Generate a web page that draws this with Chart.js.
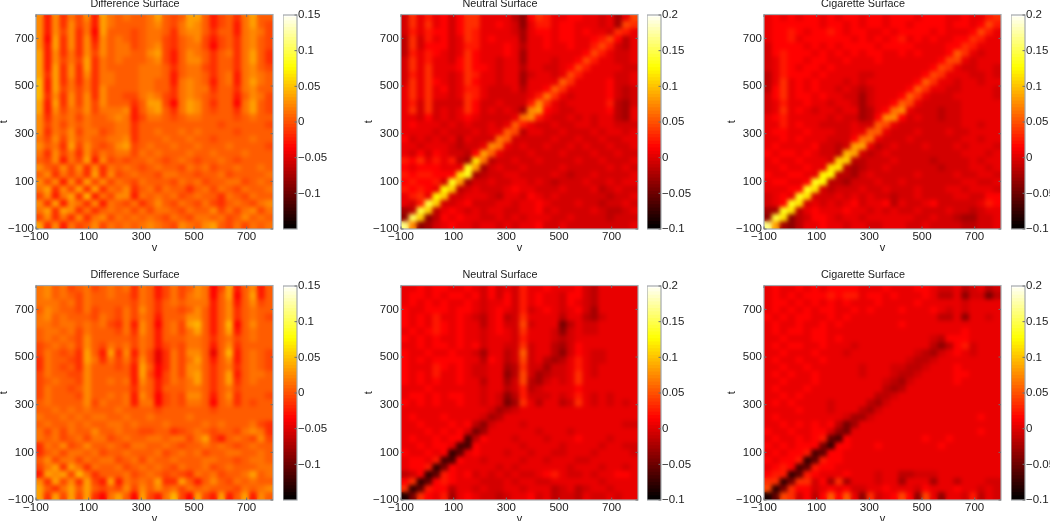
<!DOCTYPE html>
<html>
<head>
<meta charset="utf-8">
<title>Surfaces</title>
<script src="https://cdn.jsdelivr.net/npm/chart.js@4/dist/chart.umd.js"></script>
<style>
  html, body { margin: 0; padding: 0; background: #fff; overflow: hidden; }
  #page { position: relative; width: 1050px; height: 521px; overflow: hidden; }
  canvas { position: absolute; }
</style>
</head>
<body>
<div id="page"></div>
<script>
// Cell centres on both axes of every surface
const vCenters = [-85,-55,-25,5,35,65,95,125,155,185,215,245,275,305,335,365,395,425,455,485,515,545,575,605,635,665,695,725,755,785];
const tCenters = [785,755,725,695,665,635,605,575,545,515,485,455,425,395,365,335,305,275,245,215,185,155,125,95,65,35,5,-25,-55,-85];

const axisTicks = [-100,100,300,500,700];
const diffBarTicks = [-0.1,-0.05,0,0.05,0.1,0.15];
const surfaceBarTicks = [-0.1,-0.05,0,0.05,0.1,0.15,0.2];

// Surface values, in hundredths. Rows run from t=785 down to t=-85
const diffTop = [
[2,-3,2,-2,1,-1,2,-3,3,1,0,1,0,0,1,3,0,-1,0,3,3,0,-3,-1,0,-2,1,3,0,0],
[2,-3,2,-2,2,-1,1,-3,3,1,0,0,0,0,1,2,0,-1,1,3,2,0,-3,-1,0,-3,1,3,0,-1],
[2,-3,2,-1,2,-2,1,-4,3,0,0,0,-1,0,1,1,0,-2,1,2,2,0,-2,0,0,-3,1,2,1,-1],
[2,-4,3,-2,2,-2,2,-3,2,0,1,0,-1,0,1,1,-1,-2,0,1,2,-1,-3,-1,0,-2,1,2,0,-1],
[2,-3,3,-2,2,-2,2,-2,2,0,1,1,-1,0,1,2,-1,-2,0,1,1,-1,-4,-1,0,-2,1,2,0,-1],
[3,-3,2,-2,1,-2,2,-1,2,0,1,1,0,0,2,3,-1,-3,0,2,1,0,-2,0,1,-2,1,3,0,-2],
[3,-3,2,-1,1,-1,3,-2,1,0,1,0,0,0,1,2,-1,-3,0,2,2,0,-2,0,0,-2,1,3,0,-2],
[3,-3,3,-2,2,-2,3,-2,1,0,0,0,0,1,1,1,0,-2,0,1,1,-1,-2,0,0,-2,1,2,0,-1],
[3,-2,3,-2,2,-2,2,-2,1,1,0,0,0,1,1,1,0,-3,0,1,1,0,-2,0,1,-3,1,2,1,0],
[4,-3,3,-2,1,-2,1,-2,1,1,0,0,0,1,1,0,0,-3,1,2,1,0,-3,0,1,-3,1,3,1,0],
[4,-3,3,-1,1,-1,1,-2,2,0,0,0,0,1,1,0,0,-2,1,2,1,1,-2,0,0,-2,1,2,0,0],
[4,-2,2,-2,2,-1,2,-2,2,0,0,-1,-1,1,2,1,-1,-2,1,2,1,0,-1,0,0,-3,0,2,1,-1],
[3,-3,3,-2,2,-1,2,-1,2,0,0,0,-2,0,3,3,-1,-4,1,3,2,0,-2,0,0,-4,1,3,0,-1],
[3,-3,2,-1,1,0,2,-1,1,1,1,2,-3,0,2,3,0,-2,1,3,2,0,-1,0,0,-2,1,3,0,-1],
[2,-2,1,0,1,-1,1,0,0,1,2,1,-3,-1,1,1,0,-1,0,1,1,0,0,0,0,-1,0,1,0,0],
[2,-1,1,-1,1,0,1,0,0,0,1,1,-2,0,0,0,0,0,0,0,0,0,0,-1,0,0,0,0,0,-1],
[2,-2,1,0,2,-1,1,1,-1,0,1,1,-2,0,0,1,0,0,1,0,1,0,0,0,0,-1,0,0,0,0],
[1,-1,2,-1,2,0,1,0,0,1,1,2,-2,0,0,0,1,0,0,1,0,0,-1,0,0,0,0,1,0,0],
[2,0,1,-2,3,-1,2,0,-1,0,2,3,-1,0,1,0,0,1,0,0,1,0,0,0,1,0,0,0,0,-1],
[1,-2,2,-1,1,-2,2,-1,1,0,1,1,-1,1,0,1,0,0,0,1,0,0,1,0,0,0,1,0,0,0],
[0,-1,2,-3,1,-1,3,-3,2,-1,0,-1,0,0,1,0,-1,0,1,0,-1,0,0,1,0,-1,0,0,0,0],
[2,0,-1,2,-1,2,-2,2,-2,1,0,1,0,-1,0,1,0,0,-1,1,0,1,-1,0,0,1,0,0,1,0],
[0,2,-2,1,-1,1,-2,3,-2,2,-1,0,1,0,0,-1,1,1,0,0,-1,0,0,1,-1,0,0,0,0,1],
[2,-1,2,-3,2,-2,3,-1,2,-1,1,0,-1,1,0,0,0,-1,1,0,1,-1,0,0,1,1,-1,0,1,0],
[1,3,-2,2,-1,3,-2,3,-2,1,0,2,-2,0,1,-1,1,0,0,-2,0,1,-1,1,0,-1,1,0,0,1],
[-1,2,-3,1,3,-2,4,-3,1,-1,2,2,-3,1,0,1,0,1,-1,0,1,0,0,-2,1,0,-1,1,0,0],
[2,-2,3,-3,2,1,-2,2,-3,1,0,-1,1,-2,0,2,0,-1,1,0,-1,1,-1,-2,0,1,0,-1,1,2],
[1,3,-2,3,2,-2,1,-2,0,1,0,1,-1,1,-1,1,1,0,-1,1,0,0,2,-1,1,-1,1,2,-1,1],
[-1,2,-2,1,-2,2,-2,1,2,-1,1,0,1,0,1,0,-1,1,0,-1,1,1,0,1,-1,0,2,0,1,0],
[3,-2,2,-3,1,-1,0,2,-1,1,0,1,0,1,2,1,0,-1,2,1,0,2,3,0,-1,1,-1,1,0,1]
];
const neutralTop = [
[-1,3,0,2,0,1,-1,1,3,3,0,0,0,0,-2,-4,1,3,2,0,0,1,1,0,0,-1,0,-3,0,4],
[-1,3,0,3,0,1,-1,1,3,3,0,0,1,0,-1,-4,0,2,2,0,1,1,0,0,0,-1,0,-3,4,3],
[-1,2,0,2,1,1,-1,1,3,2,0,0,0,0,-1,-3,0,1,1,0,1,1,0,1,0,0,-1,3,2,0],
[-2,3,-1,2,0,1,-1,0,3,2,0,1,0,0,0,-3,0,0,1,0,1,1,0,0,1,2,4,1,-2,0],
[-2,3,-1,1,1,1,-1,0,2,2,0,0,0,1,0,-2,0,0,1,0,0,1,0,0,2,4,2,-1,-2,0],
[-2,2,0,2,1,0,-1,0,3,1,0,0,0,1,0,-3,0,0,0,0,0,0,0,1,4,2,0,-1,-1,0],
[-1,3,0,2,0,0,-1,1,3,1,0,0,-1,0,0,-3,0,0,0,-1,0,0,1,4,2,0,0,-1,-1,0],
[-1,3,0,3,0,0,0,1,3,1,1,0,-1,0,0,-2,0,0,-1,-1,0,1,4,2,0,0,0,0,-1,-1],
[-1,2,0,3,0,0,-1,0,3,2,0,0,-1,0,0,-3,-1,0,0,-1,0,4,2,0,0,0,0,-1,-1,0],
[-1,3,0,3,1,0,-1,0,3,1,0,0,-1,0,0,-3,0,0,0,0,5,3,0,0,0,0,1,-1,-1,0],
[0,3,0,3,0,1,-1,0,2,2,0,-1,-1,-1,0,-2,0,0,1,5,3,0,0,0,0,0,1,-1,-2,-1],
[0,3,0,3,0,0,-1,0,3,2,0,-1,-1,-1,-1,-1,0,2,6,3,0,-1,0,0,0,0,1,-1,-2,-1],
[0,2,-1,3,-1,-1,-1,-1,3,1,-1,-1,0,-1,-1,-1,2,7,3,0,-1,0,0,0,0,0,2,-2,-3,-1],
[0,3,-1,3,-1,0,-1,0,3,1,-1,0,-1,0,-1,-3,7,8,1,0,-1,-1,0,0,0,0,1,-2,-3,0],
[0,0,-1,1,-1,0,-1,0,1,0,-1,-1,-1,-1,0,6,7,2,0,-1,-1,0,-1,0,-1,0,0,-2,-3,0],
[0,1,0,0,0,-1,0,-1,0,-1,-1,0,-1,0,5,2,0,-1,-1,0,-1,-1,0,0,-1,0,0,-1,-1,-1],
[0,0,0,0,-1,0,-1,-1,-1,0,-1,0,0,5,4,-2,0,0,-1,-1,0,-1,-1,-1,0,-1,0,0,-1,0],
[1,-1,0,-1,0,-1,0,-2,0,-1,-1,-1,6,5,-1,-1,-1,-1,-1,0,-1,-1,0,-1,-1,0,-1,-1,0,0],
[0,0,-1,0,0,0,-1,-2,-1,-1,0,7,6,0,-1,0,-1,-1,0,-1,-1,0,-1,0,-1,-1,0,-1,-1,0],
[0,-1,1,-1,1,0,-1,-1,-2,1,8,5,0,-1,-1,-1,0,-1,-1,-1,0,-1,-1,-1,0,-1,-1,0,-1,-1],
[2,1,3,0,2,0,2,-2,-3,11,6,-2,-1,-1,0,-1,-1,0,-1,-1,-1,-1,0,-1,-1,0,-1,-1,-1,0],
[1,0,1,1,1,0,0,0,13,8,-3,-1,0,-1,-1,0,-1,-1,-1,-1,0,-1,-1,-1,-1,-1,0,-1,0,-1],
[2,1,2,2,1,1,1,11,13,-3,-2,-1,-1,0,0,-1,-1,-1,-1,0,-1,-2,-1,-1,0,-1,-1,-1,-1,0],
[1,2,1,1,2,-1,13,8,-3,-1,-1,0,-1,-1,0,0,-1,0,-1,-2,-1,-1,-1,0,-1,-1,0,-1,0,0],
[2,1,2,1,0,12,10,-2,-1,0,-1,-1,-1,0,1,0,0,-1,-1,-1,0,-1,-1,-1,0,-2,-1,0,-1,-1],
[0,2,3,0,12,10,-1,-1,0,0,0,-1,-2,0,0,-1,1,0,-1,0,-1,-1,-1,-1,-1,-1,-2,-1,-1,0],
[0,-1,2,14,10,-1,-1,0,1,-1,-1,-1,0,0,-1,0,0,1,0,-1,-1,-1,0,-1,-1,-2,-1,-1,0,-1],
[-3,-2,14,10,-2,0,1,0,-1,0,-1,0,0,-1,-1,0,0,1,-1,0,-1,-1,-1,-1,0,-1,-2,-2,-1,0],
[-4,15,10,-4,-2,1,0,1,0,0,-1,-1,0,-1,0,-1,0,0,0,-1,-1,0,-1,-1,-1,-1,-2,-1,-1,-1],
[16,7,-4,-3,-1,0,1,0,0,-1,0,0,-1,0,-1,0,0,1,-1,-1,0,-1,-1,-1,-1,-1,-1,-1,-1,0]
];
const cigaretteTop = [
[0,1,0,1,0,1,1,0,1,0,1,1,0,1,1,0,1,1,1,0,1,1,1,0,0,1,0,0,2,3],
[0,1,1,1,1,1,1,0,1,1,0,1,0,1,1,0,1,1,0,1,1,1,1,0,1,1,0,1,4,2],
[0,1,1,2,1,0,1,1,2,1,0,1,1,0,0,1,0,1,1,1,1,0,1,0,0,0,1,4,2,0],
[0,1,1,2,0,1,1,1,1,1,1,0,1,0,1,0,1,2,0,1,0,1,0,0,1,1,3,2,0,0],
[-1,1,1,1,1,0,1,0,1,0,1,1,1,1,0,1,1,1,1,0,0,0,0,1,1,3,2,0,0,0],
[-1,1,2,1,1,1,0,1,0,1,0,1,0,1,1,0,0,1,0,1,0,0,0,1,5,3,0,-1,0,0],
[-1,0,2,1,1,0,1,1,0,0,1,0,0,0,1,0,0,0,0,0,0,0,1,4,4,0,-1,0,0,0],
[-1,0,2,1,0,1,1,0,1,0,0,0,0,0,0,0,0,0,0,0,0,1,4,3,0,-1,-1,0,0,-1],
[-2,0,2,1,1,1,0,1,0,0,0,0,-1,-1,0,0,0,0,0,0,1,4,3,0,0,0,-1,-1,0,-1],
[-2,0,3,0,1,0,1,0,0,0,-1,0,-1,0,0,0,0,0,0,1,5,3,0,0,-1,0,0,-1,0,0],
[-2,1,3,0,1,0,1,0,0,-1,0,-1,-2,-1,0,0,0,0,1,5,3,0,0,-1,-1,0,0,0,0,-1],
[-1,1,3,0,1,1,0,1,0,0,-1,-1,-3,-1,0,0,0,1,5,3,0,-1,-1,-1,0,0,0,0,0,-1],
[-1,0,2,0,0,1,0,0,-1,0,0,-1,-3,-1,0,0,1,5,4,0,-1,-1,-1,-1,-1,0,0,0,0,0],
[-1,0,3,0,1,0,-1,0,0,-1,0,0,-3,-2,0,1,6,7,0,-1,-1,-1,-2,-1,-1,0,0,0,0,0],
[0,1,2,0,0,0,0,0,-1,0,-1,-1,-3,-2,1,7,7,1,-1,0,-1,-1,-2,-1,-1,0,0,0,0,0],
[0,0,2,0,1,0,0,-1,-1,-1,-1,0,-1,-1,5,4,0,-1,-1,-1,-1,-1,-1,-1,-1,0,0,-1,0,0],
[0,1,1,0,0,1,0,0,0,-1,-1,0,0,5,5,0,-1,-1,-1,0,-1,-1,-1,0,-1,-1,0,0,0,0],
[0,0,1,0,1,0,0,0,-1,-1,-1,1,6,6,0,-1,-1,-1,0,-1,-1,-1,-1,-1,-1,0,0,-1,0,0],
[0,1,0,0,0,0,1,-1,-1,-2,-1,8,8,0,-2,-1,0,-1,-1,-1,0,-1,-1,-1,0,-1,0,0,0,-1],
[1,0,1,1,0,1,0,-1,-1,-2,9,8,-1,-2,-1,0,-1,-1,-1,-1,-1,-1,-1,-1,-1,0,0,0,-1,0],
[0,1,0,0,1,0,0,0,-1,10,10,-2,-2,-1,-1,-1,0,-1,-1,-1,-1,-2,-1,-1,-1,-1,0,-1,0,0],
[0,0,1,0,0,1,0,0,11,11,-2,-3,-2,-1,-1,0,-1,-1,-1,-1,-1,-1,-2,-1,-1,-1,0,0,-1,0],
[1,0,0,1,1,0,0,12,12,-2,-2,-3,-1,0,-1,-1,-1,-1,-1,0,-1,-1,-1,-1,0,-1,-1,0,0,-1],
[0,1,1,0,0,1,13,12,-2,-2,-3,-1,-1,-1,0,-1,-1,0,-1,-1,-1,-1,-1,-1,-1,0,0,-1,-1,0],
[0,0,0,1,1,13,11,-1,-2,-1,-1,-1,0,-1,-1,0,-1,-1,-1,0,-1,-1,-1,0,0,-1,0,0,0,-1],
[-1,0,1,0,13,11,-1,-1,-1,0,-1,0,-1,0,-1,-1,-2,-1,-1,0,-1,-1,-1,-1,0,0,-1,-1,1,1],
[-1,0,1,13,11,-1,0,-1,0,-1,0,1,-1,0,0,1,-2,0,-1,-1,0,1,-1,-1,-1,-1,-1,0,2,1],
[-3,-3,13,11,-2,0,1,0,0,0,1,0,0,-1,0,-1,0,-1,-1,0,-1,-1,-1,0,-1,-1,-2,-1,0,0],
[-4,14,11,-4,-2,-1,1,1,0,-1,0,0,-1,0,0,0,0,0,0,-1,-1,0,-1,-1,-2,-3,-3,-1,-1,0],
[16,8,-3,-4,-2,0,0,1,0,0,-1,0,0,-1,-1,0,0,0,-1,-1,0,-1,-1,-1,-1,-2,-2,-1,-1,0]
];
const diffBottom = [
[1,2,0,1,-1,0,1,-1,0,1,0,1,-2,1,0,-3,-1,1,-1,0,2,1,-4,-1,3,-3,0,2,-3,0],
[1,2,0,1,0,-1,1,0,0,1,0,0,-2,1,0,-3,-1,1,-1,1,2,1,-4,0,3,-4,0,3,-3,0],
[1,1,1,0,1,-1,1,0,0,0,0,0,-1,1,0,-2,0,1,0,1,1,1,-3,0,2,-3,0,2,-1,0],
[0,2,1,0,0,-1,1,-1,0,0,-1,1,-1,2,0,-2,0,0,-1,0,2,0,-3,0,2,-2,0,1,0,0],
[1,2,0,1,0,0,0,-1,1,0,-1,1,-1,1,0,-3,0,0,0,2,2,0,-3,0,2,-2,0,1,0,-1],
[1,1,0,1,1,0,1,0,1,-1,-2,1,-3,2,0,-4,0,1,-1,3,4,0,-3,0,4,-4,0,2,0,0],
[0,1,1,0,1,-1,1,0,0,0,-1,1,-2,2,0,-3,0,1,-1,1,3,0,-3,0,3,-3,0,1,0,0],
[0,1,0,1,0,-1,2,0,0,0,0,0,-1,1,0,-3,0,0,0,1,1,0,-2,0,1,-1,0,1,0,0],
[-1,0,1,0,1,-1,2,0,-1,1,0,1,-1,1,0,-3,-1,0,-1,1,1,0,-3,0,2,-2,0,0,0,0],
[-1,1,0,-1,0,-2,3,0,-3,3,-2,2,-3,1,-1,-5,-2,1,-1,2,2,0,-5,0,4,-3,0,1,0,-1],
[-2,1,0,0,-1,-2,3,1,-2,1,-1,1,-2,2,-1,-5,-2,1,-1,1,3,0,-3,0,2,-3,0,1,0,-1],
[-2,1,0,-1,0,-2,2,0,0,0,-1,0,-3,3,0,-4,-2,1,-1,2,2,0,-2,0,1,-2,0,1,0,-1],
[-1,1,0,0,-1,-1,2,0,0,0,0,0,-3,3,-1,-4,-1,1,-1,2,3,0,-2,0,3,-3,0,1,1,0],
[-1,0,1,0,0,-1,2,0,0,1,0,1,-3,2,0,-3,-1,1,0,1,3,0,-2,0,3,-2,0,1,0,0],
[-1,1,0,0,-1,0,2,0,0,0,0,0,-2,1,0,-3,0,0,0,1,1,0,-2,0,1,-1,0,0,0,0],
[-1,1,0,0,0,-1,2,0,0,1,0,1,-3,2,0,-4,-1,0,-1,2,2,0,-3,0,2,-2,0,0,0,-1],
[0,1,0,0,0,0,2,-1,1,0,0,1,-3,1,1,-4,-1,0,-1,1,1,0,-4,0,1,-2,0,-1,0,0],
[0,0,1,0,1,0,1,0,0,0,1,0,0,0,0,-1,0,0,0,0,0,0,-1,0,0,0,0,0,0,0],
[1,0,0,1,0,1,0,1,1,0,0,1,0,0,1,0,0,0,0,1,0,0,0,0,0,0,0,0,0,0],
[0,1,0,0,1,0,1,0,0,1,1,0,1,0,0,0,1,0,0,0,0,1,0,1,0,0,0,1,-1,-2],
[1,-1,1,-1,1,0,0,2,0,0,1,0,0,-1,-1,0,0,-2,-1,0,1,0,-1,0,0,-1,1,2,1,-2],
[1,0,1,-1,0,1,-1,1,1,-1,0,1,0,0,1,1,0,1,1,-1,1,3,-1,-3,0,1,0,-1,2,-1],
[-2,1,0,2,-1,0,2,0,0,1,0,-1,1,1,0,0,1,0,-1,0,0,1,0,1,0,-1,0,1,0,0],
[-2,0,1,-1,1,1,0,1,-1,0,0,1,0,0,0,1,-1,0,1,0,1,-1,0,0,1,1,0,0,1,0],
[0,2,-1,1,1,-1,1,0,1,1,-1,0,1,-1,1,0,0,1,0,0,0,1,1,0,0,-1,0,1,1,0],
[-1,1,3,-2,3,1,-2,1,0,0,1,-1,0,1,0,1,0,-1,1,0,0,1,-1,0,1,0,0,0,1,1],
[-3,3,2,3,-1,4,1,-2,0,0,0,1,-1,0,1,0,-1,0,-1,-2,1,0,1,-1,0,0,1,3,0,1],
[2,-2,3,-1,2,-2,3,-1,-3,3,-3,1,0,1,0,3,-2,-2,3,0,-3,0,2,0,-1,1,0,1,0,0],
[3,0,-2,1,3,0,3,0,-1,0,-1,2,-1,2,0,2,0,1,-1,1,0,1,0,0,0,-1,1,0,1,2],
[3,-2,3,-1,3,-1,3,-2,-4,1,3,0,-4,3,-1,-3,1,4,-1,-4,3,-1,-3,3,-3,0,3,-3,2,0]
];
const neutralBottom = [
[0,0,1,0,1,1,0,0,1,0,-1,1,-1,0,-1,2,0,0,1,0,0,0,1,-1,-2,0,0,0,0,0],
[0,1,1,0,1,0,1,1,0,1,-1,1,-1,1,-1,2,0,1,0,0,-1,1,1,-1,-2,0,0,0,0,0],
[0,1,0,1,0,1,0,0,1,0,-1,0,0,1,-1,2,0,1,0,0,-1,1,0,-1,-2,0,0,0,0,0],
[1,0,0,1,1,1,0,1,1,0,-1,0,1,0,-1,2,-1,0,1,0,-1,0,1,-1,-3,0,0,0,0,0],
[1,0,1,0,2,0,0,1,0,-1,-2,0,1,-2,-1,3,0,0,0,0,-2,0,0,-2,-3,-1,0,0,0,0],
[1,0,1,0,2,1,0,1,0,0,-2,0,1,-1,-1,4,-1,0,0,0,-5,-2,0,-1,-1,0,0,0,0,0],
[0,1,0,1,2,1,0,1,0,0,-1,0,1,0,-1,3,0,0,0,-1,-4,-1,0,-1,-1,0,0,0,0,0],
[1,0,1,0,1,0,0,1,0,0,-1,0,0,0,-1,2,0,0,0,-1,-2,-1,0,0,0,0,0,0,0,0],
[0,0,1,0,1,1,0,1,0,1,-1,0,0,-1,-1,3,-1,0,0,-2,-3,-1,1,0,0,0,0,0,0,0],
[1,0,0,1,0,0,1,0,0,-1,-3,0,0,-2,-1,5,-1,0,0,-2,-4,-1,1,0,-1,-1,0,0,0,0],
[1,0,1,0,1,1,1,1,0,0,-2,1,0,-2,-1,4,-1,0,-2,-3,-2,0,2,0,-1,-1,0,0,0,0],
[1,0,0,0,2,1,0,1,0,-1,-1,0,0,-3,-2,3,-1,-1,-3,-1,-1,0,2,0,-1,0,0,0,0,0],
[1,0,1,0,2,0,0,1,0,-1,-1,0,0,-4,-2,4,-1,-3,-2,-1,-1,0,3,0,-1,0,0,0,0,0],
[1,0,1,0,1,0,0,1,0,0,-2,0,0,-3,-1,4,-2,-3,-1,0,-1,0,3,0,0,0,0,0,0,0],
[0,0,0,1,0,0,0,0,0,0,-1,0,0,-2,-1,2,-2,-1,0,0,0,0,1,0,0,0,0,0,0,0],
[0,1,1,0,1,0,1,1,0,0,-1,0,-1,-4,-2,2,-1,-1,-1,0,-1,0,2,0,-1,0,-1,0,0,0],
[1,0,1,0,1,0,0,1,0,0,-1,0,-1,-5,-3,3,0,-2,0,0,-2,-1,3,0,-1,0,-1,0,-1,0],
[0,0,0,0,0,0,0,0,0,0,0,-1,-3,-2,-1,0,0,0,0,0,0,0,0,0,0,0,0,0,0,0],
[0,1,0,0,0,1,0,0,0,0,-1,-3,-2,0,0,0,0,0,0,0,0,0,0,0,0,0,0,0,0,0],
[0,0,1,0,0,0,1,0,1,-2,-4,-1,0,0,0,-1,0,0,0,0,0,0,0,0,0,0,0,0,-1,-1],
[0,0,0,1,0,1,0,1,-1,-5,-3,0,0,0,0,0,0,-1,0,0,0,-1,0,0,0,0,0,0,0,0],
[0,1,0,0,1,0,1,1,-7,-2,1,0,0,0,-1,0,0,0,-1,0,0,0,1,0,0,0,-1,0,0,0],
[0,0,1,0,1,1,0,-7,-7,1,0,0,0,0,0,-1,0,0,0,0,-1,0,0,0,0,-1,0,0,-1,-1],
[1,0,0,1,0,1,-8,-6,0,1,0,0,0,-1,0,0,-1,0,0,-1,-1,0,0,0,-1,0,0,0,0,-1],
[0,1,1,0,2,-7,-7,1,0,0,-1,0,0,0,0,-1,0,0,-1,0,0,0,-1,-1,0,0,0,0,0,0],
[0,1,1,2,-8,-5,1,0,0,0,0,0,-1,0,-1,0,0,0,0,0,0,-1,0,0,0,-1,0,0,-1,0],
[-2,-1,1,-8,-6,2,1,0,1,-1,0,-1,0,-1,0,-1,-1,0,1,2,0,-1,-1,0,-1,0,0,1,1,0],
[1,3,-8,-6,1,2,1,0,0,0,-1,-1,-1,0,-1,0,0,-1,-1,0,0,0,0,0,0,-1,0,0,0,0],
[3,-8,-6,2,1,1,-2,0,0,-1,0,-1,-1,0,0,-1,0,0,0,-2,-1,0,-2,-1,0,0,-1,0,0,0],
[-9,-5,3,1,0,2,-3,0,1,0,-1,-1,-2,-1,0,0,1,-1,0,-2,-1,-1,-2,0,-1,-1,0,-1,0,0]
];
const cigaretteBottom = [
[0,1,0,0,1,0,1,0,1,1,1,1,0,0,0,1,0,0,0,1,1,0,-1,-1,0,-2,-1,0,-2,-1],
[0,1,0,1,0,1,1,1,2,1,2,2,0,1,1,0,1,0,0,0,1,0,-2,-2,0,-4,-1,-1,-5,-2],
[0,1,1,0,1,0,1,0,1,0,1,0,0,0,1,0,0,0,0,1,0,0,0,0,0,-1,0,0,0,0],
[0,1,0,1,0,1,0,1,1,0,0,1,0,1,0,0,0,1,0,0,0,1,0,-1,0,-1,0,0,0,0],
[1,0,1,0,1,1,0,0,1,0,1,0,0,0,0,0,0,0,0,0,0,0,-2,-2,0,-4,0,0,-1,0],
[0,1,0,0,1,0,0,1,0,1,0,0,0,0,0,0,0,1,0,0,0,0,0,0,0,0,0,0,0,0],
[0,1,0,1,1,0,1,1,0,0,0,0,0,0,0,0,0,0,0,0,0,0,0,0,0,1,0,0,0,0],
[0,0,1,0,0,0,1,1,0,1,0,0,0,0,0,0,0,0,0,0,0,-1,-2,1,1,1,0,0,0,0],
[0,1,0,1,1,0,0,1,0,0,0,-1,0,0,0,0,0,0,0,0,0,-2,-4,-2,1,2,-1,0,0,0],
[0,0,1,0,0,0,1,0,0,0,-1,0,0,0,0,0,0,0,0,-1,-2,-3,-1,0,1,0,-1,0,0,0],
[0,1,0,0,1,0,0,1,0,0,0,0,0,0,0,0,0,0,-1,-2,-2,-1,0,0,0,0,0,0,0,0],
[0,0,1,0,0,1,0,0,0,0,0,0,-1,0,0,0,-1,-1,-2,-2,-1,0,0,0,1,0,0,0,0,0],
[0,1,0,1,0,0,1,0,0,0,0,0,-1,0,0,0,-1,-2,-2,-1,0,0,0,0,1,1,0,0,0,0],
[0,0,1,0,0,0,1,0,0,0,0,0,0,0,0,-1,-2,-3,-1,0,0,0,0,0,1,0,0,0,0,0],
[0,1,0,0,0,1,0,0,0,0,0,0,0,0,0,-2,-3,-2,0,0,0,0,0,0,0,0,0,0,0,0],
[0,0,1,0,1,0,0,0,0,0,0,0,0,0,-2,-2,-1,0,0,0,0,0,0,0,0,0,0,0,0,0],
[0,1,0,1,0,0,0,0,-1,0,0,0,0,-2,-3,-1,0,0,0,0,0,0,0,0,0,0,0,0,0,0],
[0,0,0,0,1,0,0,0,-1,0,0,0,-2,-3,-1,0,0,0,0,0,0,0,0,0,0,0,0,0,0,0],
[0,1,0,0,0,0,0,0,0,0,-1,-3,-3,-1,0,0,0,0,0,0,0,0,0,0,0,0,0,1,0,0],
[0,0,1,0,1,0,1,0,1,-2,-5,-3,0,0,0,0,0,0,0,0,0,0,0,0,0,0,0,0,0,0],
[1,0,0,1,0,0,1,1,-1,-4,-5,0,0,0,0,0,0,0,0,0,0,0,0,0,0,0,0,1,0,0],
[0,1,0,0,1,0,1,2,-6,-7,1,0,0,0,0,0,0,0,0,0,1,0,0,1,0,0,0,0,0,0],
[1,0,1,0,1,1,1,-5,-8,1,1,0,0,0,1,0,0,0,0,0,0,0,1,0,0,0,0,0,0,0],
[0,1,0,1,1,2,-7,-6,1,1,0,0,0,0,0,0,0,0,0,0,0,0,0,0,0,0,0,0,0,0],
[1,0,1,1,2,-8,-6,2,1,1,0,0,0,0,0,0,0,0,0,0,0,0,0,0,0,0,0,0,0,0],
[0,1,2,1,-7,-6,2,1,1,0,0,0,0,0,0,0,0,0,0,0,0,0,0,0,0,0,0,0,0,0],
[1,2,2,-8,-6,2,1,0,0,0,1,0,0,0,-1,0,0,-2,-2,-1,-1,-1,0,0,0,0,0,0,0,0],
[3,3,-8,-5,3,3,-1,1,-3,3,-3,0,0,0,-1,0,0,-3,0,0,0,-3,0,0,-2,0,0,0,-1,-1],
[4,-8,-5,3,1,1,-1,0,1,0,1,-1,-1,0,0,1,0,0,0,-1,1,0,0,0,1,0,0,-1,0,-1],
[-9,-6,4,3,-1,1,-2,1,5,1,5,0,-4,3,-1,0,1,4,1,-4,4,0,-4,0,0,-1,2,-2,0,-1]
];

const FONT = "'Liberation Sans', Arial, sans-serif";
const TEXT_COLOR = "#1c1c1c";
const FRAME_COLOR = "#a4a8ac";
// The read values are whole hundredths, the flat background sits a little above zero
const BASE_LEVEL = 0.003;

// MATLAB "hot" ramp
function hotColor(value, min, max) {
    const f = Math.min(1, Math.max(0, (value - min) / (max - min)));
    const r = Math.min(1, f / 0.375);
    const g = Math.min(1, Math.max(0, (f - 0.375) / 0.375));
    const b = Math.max(0, (f - 0.75) / 0.25);
    return `rgb(${Math.round(r * 255)},${Math.round(g * 255)},${Math.round(b * 255)})`;
}

function tickText(value) {
    return String(value).replace("-", "\u2212");
}

// Softens the cells and puts on the frame with its small inward ticks
const framePlugin = {
    id: "frame",
    beforeDatasetsDraw(chart, args, opts) {
        if (opts.base) {
            const a = chart.chartArea;
            chart.ctx.fillStyle = opts.base;
            chart.ctx.fillRect(a.left, a.top, a.width, a.height);
        }
    },
    afterDatasetsDraw(chart, args, opts) {
        const ctx = chart.ctx;
        const a = chart.chartArea;
        if (opts.blur) {
            ctx.save();
            ctx.beginPath();
            ctx.rect(a.left, a.top, a.width, a.height);
            ctx.clip();
            ctx.filter = `blur(${opts.blur}px)`;
            ctx.drawImage(chart.canvas, a.left, a.top, a.width, a.height, a.left, a.top, a.width, a.height);
            ctx.restore();
        }
        ctx.save();
        ctx.strokeStyle = FRAME_COLOR;
        ctx.lineWidth = 1.2;
        ctx.strokeRect(a.left, a.top, a.width, a.height);
        ctx.strokeStyle = "#707070";
        ctx.lineWidth = 1;
        ctx.beginPath();
        chart.scales.y.ticks.forEach(t => {
            const y = chart.scales.y.getPixelForValue(t.value);
            if (opts.blur) {
                ctx.moveTo(a.left, y); ctx.lineTo(a.left + 2.5, y);
            }
            ctx.moveTo(a.right, y); ctx.lineTo(a.right - 2.5, y);
        });
        if (opts.blur) {
            chart.scales.x.ticks.forEach(t => {
                const x = chart.scales.x.getPixelForValue(t.value);
                ctx.moveTo(x, a.bottom); ctx.lineTo(x, a.bottom - 2.5);
                ctx.moveTo(x, a.top); ctx.lineTo(x, a.top + 2.5);
            });
        }
        ctx.stroke();
        ctx.restore();
    }
};

function addCanvas(left, top, width, height) {
    const canvas = document.createElement("canvas");
    canvas.width = width;
    canvas.height = height;
    canvas.style.left = left + "px";
    canvas.style.top = top + "px";
    canvas.style.width = width + "px";
    canvas.style.height = height + "px";
    document.getElementById("page").appendChild(canvas);
    return canvas;
}

function drawSurface(title, rows, min, max, plotLeft, plotTop) {
    const plotWidth = 237, plotHeight = 214;
    // Same margin on both sides so the title centres over the plot
    const canvas = addCanvas(plotLeft - 39, plotTop - 19, 39 + plotWidth + 39, 19 + plotHeight + 26);

    const cells = [];
    rows.forEach((row, r) => {
        row.forEach((value, c) => {
            cells.push({ x: vCenters[c], y: tCenters[r], v: value / 100 + BASE_LEVEL });
        });
    });

    new Chart(canvas, {
        type: "scatter",
        data: {
            datasets: [{
                data: cells,
                clip: 0,
                pointStyle: "rect",
                pointBorderWidth: 0,
                pointRadius: ctx => {
                    const s = ctx.chart.scales.x;
                    return (s.getPixelForValue(30) - s.getPixelForValue(0)) * 0.75;
                },
                pointBackgroundColor: ctx => ctx.raw ? hotColor(ctx.raw.v, min, max) : "#000"
            }]
        },
        options: {
            responsive: false,
            animation: false,
            events: [],
            layout: { padding: { top: 1.6, right: 39, left: 0, bottom: 0 } },
            plugins: {
                legend: { display: false },
                tooltip: { enabled: false },
                title: {
                    display: true,
                    text: title,
                    color: TEXT_COLOR,
                    font: { family: FONT, size: 10.8, weight: "normal", lineHeight: 1.2 },
                    padding: { top: 0, bottom: 4 }
                },
                frame: { blur: 2.2, base: hotColor(BASE_LEVEL, min, max) }
            },
            scales: {
                x: {
                    type: "linear",
                    min: -100,
                    max: 800,
                    grid: { display: false, drawTicks: false },
                    border: { display: false },
                    afterBuildTicks: s => { s.ticks = axisTicks.map(v => ({ value: v })); },
                    afterFit: s => { s.height = 26; },
                    ticks: {
                        color: TEXT_COLOR,
                        font: { family: FONT, size: 11.5 },
                        padding: 1,
                        maxRotation: 0,
                        autoSkip: false,
                        callback: tickText
                    },
                    title: {
                        display: true,
                        text: "v",
                        color: TEXT_COLOR,
                        font: { family: FONT, size: 11, lineHeight: 1.27 },
                        padding: 0
                    }
                },
                y: {
                    type: "linear",
                    min: -100,
                    max: 800,
                    grid: { display: false, drawTicks: false },
                    border: { display: false },
                    afterBuildTicks: s => { s.ticks = axisTicks.map(v => ({ value: v })); },
                    afterFit: s => { s.width = 39; },
                    ticks: {
                        color: TEXT_COLOR,
                        font: { family: FONT, size: 11.5 },
                        padding: 2,
                        autoSkip: false,
                        callback: tickText
                    },
                    title: {
                        display: true,
                        text: "t",
                        color: TEXT_COLOR,
                        font: { family: FONT, size: 11, lineHeight: 1.27 },
                        padding: 0
                    }
                }
            }
        },
        plugins: [framePlugin]
    });
}

function drawColorBar(barTicks, min, max, barLeft, plotTop) {
    const barWidth = 14, plotHeight = 214, pad = 20;
    const canvas = addCanvas(barLeft, plotTop - pad, barWidth + 44, plotHeight + pad * 2);

    // 64 steps like the original colormap, each a floating bar
    const levels = [];
    const step = (max - min) / 64;
    for (let i = 0; i < 64; i++) {
        const lo = min + i * step;
        levels.push({
            data: [[lo, Math.min(max, lo + step * 1.3)]],
            backgroundColor: hotColor(lo + step / 2, min, max),
            barPercentage: 1,
            categoryPercentage: 1,
            borderWidth: 0
        });
    }

    new Chart(canvas, {
        type: "bar",
        data: { labels: [""], datasets: levels },
        options: {
            responsive: false,
            animation: false,
            events: [],
            layout: { padding: { top: pad, bottom: pad, left: 0, right: 0 } },
            plugins: {
                legend: { display: false },
                tooltip: { enabled: false },
                frame: { blur: 0 }
            },
            scales: {
                x: { display: false, stacked: true },
                y: {
                    type: "linear",
                    position: "right",
                    stacked: false,
                    min: min,
                    max: max,
                    grid: { display: false, drawTicks: false },
                    border: { display: false },
                    afterBuildTicks: s => { s.ticks = barTicks.map(v => ({ value: v })); },
                    afterFit: s => { s.width = 44; },
                    ticks: {
                        color: TEXT_COLOR,
                        font: { family: FONT, size: 11.5 },
                        padding: 1,
                        autoSkip: false,
                        callback: tickText
                    }
                }
            }
        },
        plugins: [framePlugin]
    });
}

// ✅ Top row
drawSurface("Difference Surface", diffTop, -0.15, 0.15, 36, 15);
drawColorBar(diffBarTicks, -0.15, 0.15, 283, 15);
drawSurface("Neutral Surface", neutralTop, -0.1, 0.2, 401, 15);
drawColorBar(surfaceBarTicks, -0.1, 0.2, 647, 15);
drawSurface("Cigarette Surface", cigaretteTop, -0.1, 0.2, 764, 15);
drawColorBar(surfaceBarTicks, -0.1, 0.2, 1011, 15);

// ✅ Bottom row
drawSurface("Difference Surface", diffBottom, -0.15, 0.15, 36, 286);
drawColorBar(diffBarTicks, -0.15, 0.15, 283, 286);
drawSurface("Neutral Surface", neutralBottom, -0.1, 0.2, 401, 286);
drawColorBar(surfaceBarTicks, -0.1, 0.2, 647, 286);
drawSurface("Cigarette Surface", cigaretteBottom, -0.1, 0.2, 764, 286);
drawColorBar(surfaceBarTicks, -0.1, 0.2, 1011, 286);
</script>
</body>
</html>
